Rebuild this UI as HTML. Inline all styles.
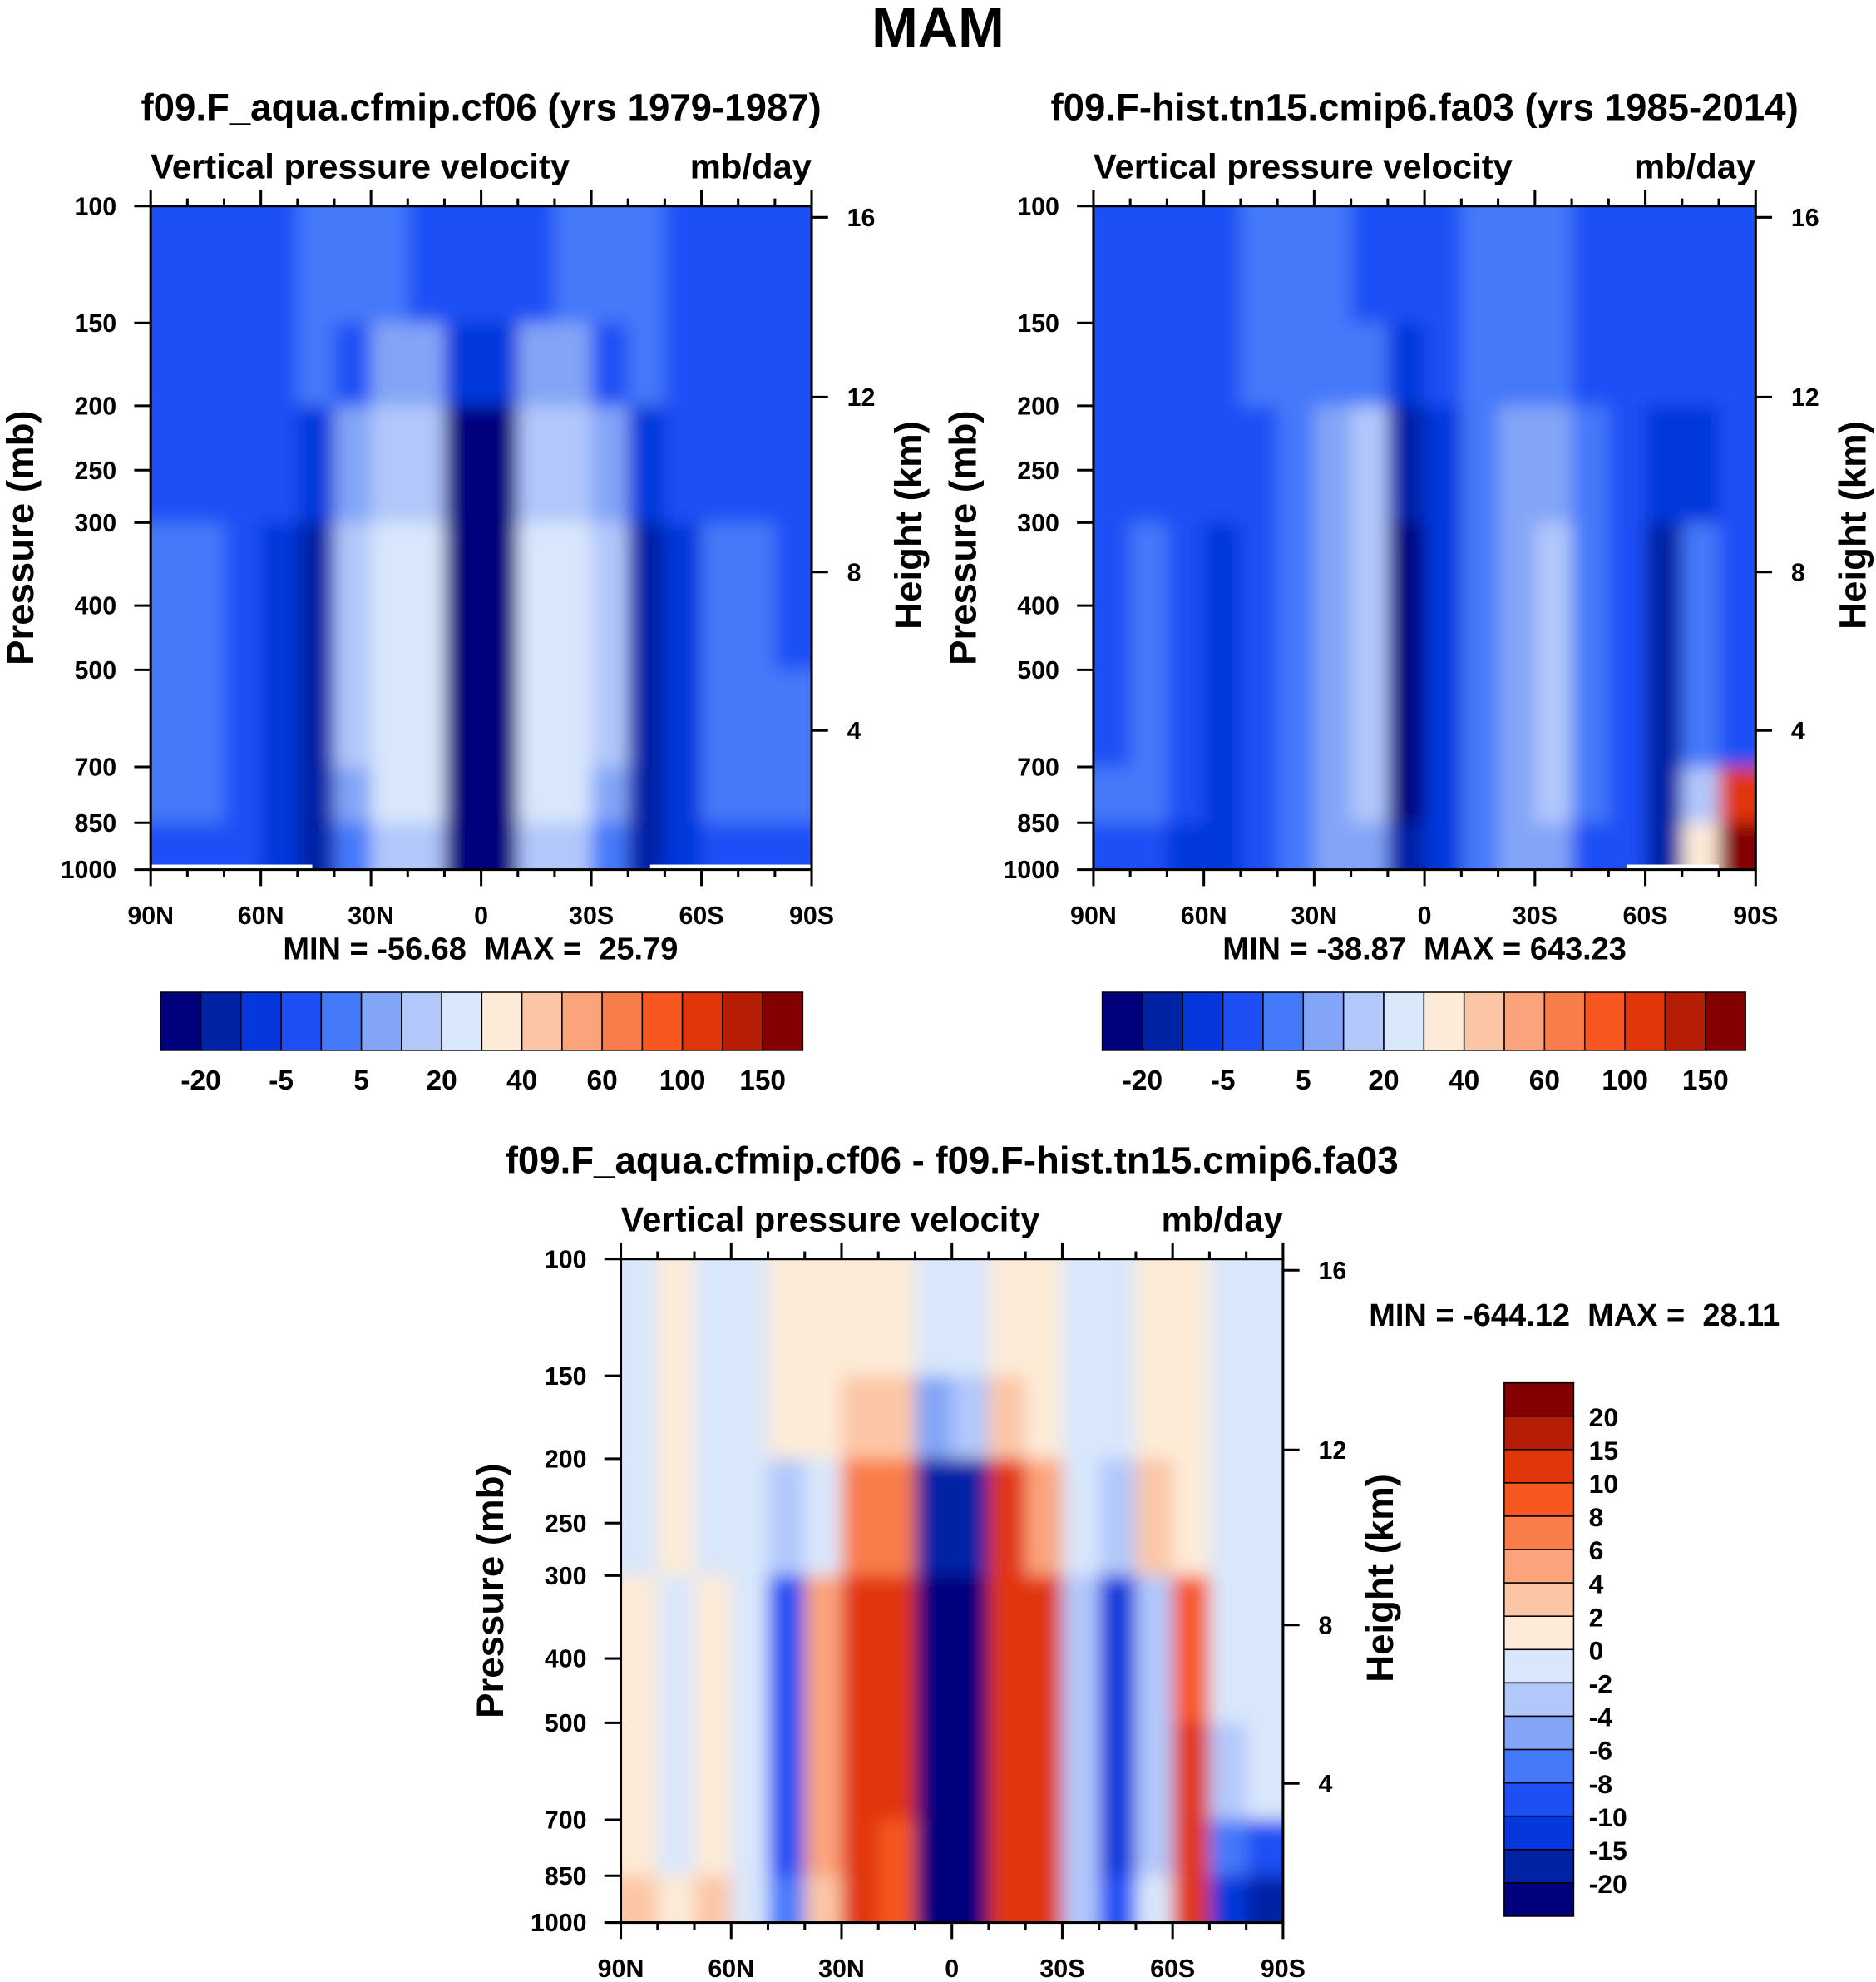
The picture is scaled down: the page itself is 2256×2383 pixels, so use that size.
<!DOCTYPE html>
<html><head><meta charset="utf-8"><style>
html,body{margin:0;padding:0;background:#fff}
svg{display:block}
text{font-family:"Liberation Sans",Arial,sans-serif;font-weight:bold;fill:#000;white-space:pre}
</style></head><body>
<svg id="fig" width="2256" height="2383" viewBox="0 0 1484 1568" xmlns="http://www.w3.org/2000/svg">
<defs>
<filter id="blur" x="-5%" y="-5%" width="110%" height="110%"><feGaussianBlur stdDeviation="7"/></filter>
<clipPath id="c1"><rect x="119" y="163" width="523" height="525"/></clipPath>
<clipPath id="c2"><rect x="865" y="163" width="524" height="525"/></clipPath>
<clipPath id="c3"><rect x="491" y="996" width="524" height="525"/></clipPath>
</defs>
<text x="742" y="37" font-size="44" text-anchor="middle">MAM</text>
</svg>
<script>
// ---- data ----
const latCols = [85,75,65,55,45,35,25,15,5,-5,-15,-25,-35,-45,-55,-65,-75,-85];
const rowBounds = [100,150,200,300,500,700,850,1000];
const absLevels = [-20,-10,-5,0,5,10,20,30,40,50,60,80,100,120,150];
const diffLevels = [-20,-15,-10,-8,-6,-4,-2,0,2,4,6,8,10,15,20];
const absLabels = ["-20","-5","5","20","40","60","100","150"];
const diffLabels = ["20","15","10","8","6","4","2","0","-2","-4","-6","-8","-10","-15","-20"];
const colors = ["#00007d","#0022a5","#0537dc","#1e4ff5","#4479fa","#83a5f7","#b2c8fb","#d9e7fb","#fdebd7","#fcc6a6","#fba47c","#f97d4a","#f8561f","#e1360a","#b51e05","#840000"];
const pTicks = [100,150,200,250,300,400,500,700,850,1000];
const hTicks = [16,12,8,4];
const hTickP = [104,194,356,617];
const latTicks = [90,60,30,0,-30,-60,-90];
const latTickLabels = ["90N","60N","30N","0","30S","60S","90S"];
const cf06 = [
 [-2,-2,-2,-2,3,3,3,-2,-2,-2,-2,3,3,3,-2,-2,-2,-2],
 [-2,-2,-2,-2,3,-2,8,8,-8,-8,8,8,-2,3,-2,-2,-2,-2],
 [-2,-2,-2,-2,-7,8,15,15,-35,-35,15,15,8,-7,-2,-2,-2,-2],
 [3,3,-2,-7,-12,15,25,22,-35,-35,22,25,15,-12,-7,3,3,-2],
 [3,3,-2,-7,-15,15,25,25,-35,-35,25,25,15,-15,-7,3,3,3],
 [3,3,-2,-7,-15,8,25,22,-35,-35,22,25,8,-15,-7,3,3,3],
 [-2,-2,-2,-7,-12,3,15,15,-30,-30,15,15,3,-12,-7,-2,-2,-2]
];
const fa03 = [
 [-2,-2,-2,-2,3,3,3,-2,-2,-2,3,3,3,-2,-2,-2,-2,-2],
 [-2,-2,-2,-2,3,3,3,3,-8,-2,3,3,3,-2,-2,-2,-2,-2],
 [-2,-2,-2,-2,-2,3,8,12,-20,-7,3,8,8,3,-2,-7,-7,-2],
 [-2,3,-2,-7,-2,3,8,15,-25,-8,3,8,12,3,-2,-12,3,-2],
 [-2,3,-2,-7,-2,3,8,15,-25,-8,3,8,12,3,-2,-15,3,-2],
 [3,3,-2,-7,-2,3,8,12,-25,-8,3,8,12,3,-2,-20,15,100],
 [-2,-2,-7,-7,-2,3,8,8,-20,-7,3,8,8,-2,-2,-20,30,150]
];
const diff = [
 [-1,1,-1,-1,1,1,1,1,-1,-1,1,1,-1,-1,1,1,-1,-1],
 [-1,1,-1,-1,1,1,3,2,-6,-4,3,1,-1,-2,1,1,-1,-1],
 [-1,1,-1,-1,-3,-1,7,6,-16,-16,10,5,-2,-4,2,1,-1,-1],
 [1,-1,1,-2,-9,4,12,10,-25,-25,13,11,-3,-13,-4,8,-2,-1],
 [1,-1,1,-2,-9,5,13,10,-25,-25,13,12,-3,-15,-4,10,-3,-2],
 [1,-1,1,-2,-10,5,13,9,-25,-25,13,11,-3,-13,-3,10,-8,-10],
 [3,1,2,-2,-7,3,13,9,-22,-22,13,10,-3,-10,-2,12,-15,-18]
];
// ---- drawing ----
const NS="http://www.w3.org/2000/svg";
const svg=document.getElementById('fig');
function mk(tag,attrs,parent){const e=document.createElementNS(NS,tag);for(const k in attrs)e.setAttribute(k,attrs[k]);(parent||svg).appendChild(e);return e;}
function colorFor(v,levels){let i=0;while(i<levels.length&&v>=levels[i])i++;return colors[i];}
function txt(x,y,s,size,anchor,parent,rot){const t=mk('text',{x:x,y:y,'font-size':size,'text-anchor':anchor||'middle'},parent);if(rot)t.setAttribute('transform','rotate(-90 '+x+' '+y+')');t.textContent=s;return t;}

function panel(x0,y0,w,h,grid,levels,clip,name,title,mm,mmX,mmY,mmAnchor,whiteLine){
 const g=mk('g',{});
 
 
 const X=lat=>x0+(90-lat)/180*w;
 const Y=p=>y0+(Math.log10(p)-2)*h;
 const fg=mk('g',{'clip-path':'url(#'+clip+')'},g);
 const bg=mk('g',{filter:'url(#blur)'},fg);
 for(let r=0;r<grid.length;r++){
  for(let c=0;c<latCols.length;c++){
   const xa=X(latCols[c]+5),xb=X(latCols[c]-5);
   let ya=Y(rowBounds[r]),yb=Y(rowBounds[r+1]);
   if(r===0)ya-=25; if(r===grid.length-1)yb+=25;
   const xs=c===0?xa-25:xa, xe=c===latCols.length-1?xb+25:xb;
   const rc=mk('rect',{x:xs,y:ya,width:xe-xs+0.5,height:yb-ya+0.5,fill:colorFor(grid[r][c],levels)},bg);
   
   
  }
 }
 if(whiteLine){for(const seg of whiteLine){mk('rect',{x:X(seg[0]),y:y0+h-4,width:X(seg[1])-X(seg[0]),height:4,fill:'#fff'},fg);}}
 const fr=mk('rect',{x:x0,y:y0,width:w,height:h,fill:'none',stroke:'#000','stroke-width':2},g);
 
 
 for(let lat=90;lat>=-90;lat-=10){const x=X(lat);const maj=lat%30===0;const L=maj?13:6;
  mk('line',{x1:x,x2:x,y1:y0,y2:y0-L,stroke:'#000','stroke-width':2},g);
  mk('line',{x1:x,x2:x,y1:y0+h,y2:y0+h+L,stroke:'#000','stroke-width':2},g);}
 latTicks.forEach((lat,i)=>{const t=txt(X(lat),y0+h+43,latTickLabels[i],20,'middle',g);
  
  });
 pTicks.forEach(p=>{const y=Y(p);mk('line',{x1:x0,x2:x0-13,y1:y,y2:y,stroke:'#000','stroke-width':2},g);
  const t=txt(x0-27,y+7,String(p),20,'end',g);
  
  });
 hTicks.forEach((hk,i)=>{const y=Y(hTickP[i]);mk('line',{x1:x0+w,x2:x0+w+13,y1:y,y2:y,stroke:'#000','stroke-width':2},g);
  const t=txt(x0+w+28,y+7,String(hk),20,'start',g);
  
  });
 const tt=txt(x0+w/2,y0-68,title,30,'middle',g);
 
 
 const lt=txt(x0,y0-22,'Vertical pressure velocity',27.5,'start',g);
 
 
 const ut=txt(x0+w,y0-22,'mb/day',27.5,'end',g);
 
 
 const ya=txt(x0-93,y0+h/2,'Pressure (mb)',30,'middle',g,true);
 
 
 const ha=txt(x0+w+87,y0+h/2-10,'Height (km)',30,'middle',g,true);
 
 
 const m=txt(mmX,mmY,mm,25,mmAnchor,g);
 
 
}
panel(119,163,523,525,cf06,absLevels,'c1','panel-cf06','f09.F_aqua.cfmip.cf06 (yrs 1979-1987)','MIN = -56.68  MAX =  25.79',380,759,'middle',[[90,46],[-46,-90]]);
panel(865,163,524,525,fa03,absLevels,'c2','panel-fa03','f09.F-hist.tn15.cmip6.fa03 (yrs 1985-2014)','MIN = -38.87  MAX = 643.23',1127,759,'middle',[[-55,-80]]);
panel(491,996,524,525,diff,diffLevels,'c3','panel-difference','f09.F_aqua.cfmip.cf06 - f09.F-hist.tn15.cmip6.fa03','MIN = -644.12  MAX =  28.11',1083,1049,'start',null);

function hbar(x0,y0,w,h,name){
 const g=mk('g',{});
 
 
 const bw=w/colors.length;
 colors.forEach((c,i)=>{const r=mk('rect',{x:x0+i*bw,y:y0,width:bw,height:h,fill:c,stroke:'#000','stroke-width':1},g);
  
  });
 absLabels.forEach((s,i)=>{const t=txt(x0+(2*i+1)*bw,y0+h+31,s,22,'middle',g);
  
  });
}
hbar(127,785,508,46,'colorbar-cf06');
hbar(872,785,509,46,'colorbar-fa03');
(function(){
 const g=mk('g',{});
 
 
 const x0=1190,y0=1094,w=55,h=422,bh=h/colors.length;
 colors.slice().reverse().forEach((c,i)=>{const r=mk('rect',{x:x0,y:y0+i*bh,width:w,height:bh,fill:c,stroke:'#000','stroke-width':1},g);
  
  });
 diffLabels.forEach((s,i)=>{const t=txt(x0+w+12,y0+(i+1)*bh+8,s,21,'start',g);
  
  });
})();
</script>
</body></html>
